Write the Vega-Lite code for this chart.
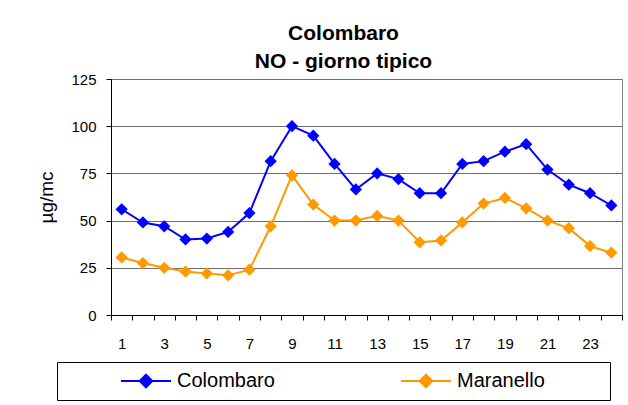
{
  "$schema": "https://vega.github.io/schema/vega-lite/v6.json",
  "width": 511,
  "height": 236,
  "autosize": {"type": "none"},
  "padding": {"left": 111, "top": 79, "right": 6, "bottom": 90},
  "background": "white",
  "config": {
    "font": "Liberation Sans",
    "view": {"stroke": "#808080", "strokeWidth": 1}
  },
  "title": {
    "text": ["Colombaro", "NO - giorno tipico"],
    "font": "Liberation Sans",
    "fontSize": 21,
    "fontWeight": "bold",
    "color": "black",
    "lineHeight": 28,
    "anchor": "middle",
    "frame": "group",
    "baseline": "bottom",
    "offset": -21,
    "dx": -23
  },
  "data": {
    "values": [
      {"ora": 1, "stazione": "Colombaro", "valore": 56},
      {"ora": 2, "stazione": "Colombaro", "valore": 49},
      {"ora": 3, "stazione": "Colombaro", "valore": 47},
      {"ora": 4, "stazione": "Colombaro", "valore": 40},
      {"ora": 5, "stazione": "Colombaro", "valore": 40.5},
      {"ora": 6, "stazione": "Colombaro", "valore": 44},
      {"ora": 7, "stazione": "Colombaro", "valore": 54},
      {"ora": 8, "stazione": "Colombaro", "valore": 81.5},
      {"ora": 9, "stazione": "Colombaro", "valore": 100},
      {"ora": 10, "stazione": "Colombaro", "valore": 95},
      {"ora": 11, "stazione": "Colombaro", "valore": 80},
      {"ora": 12, "stazione": "Colombaro", "valore": 66.5},
      {"ora": 13, "stazione": "Colombaro", "valore": 75},
      {"ora": 14, "stazione": "Colombaro", "valore": 72},
      {"ora": 15, "stazione": "Colombaro", "valore": 64.5},
      {"ora": 16, "stazione": "Colombaro", "valore": 64.5},
      {"ora": 17, "stazione": "Colombaro", "valore": 80},
      {"ora": 18, "stazione": "Colombaro", "valore": 81.5},
      {"ora": 19, "stazione": "Colombaro", "valore": 86.5},
      {"ora": 20, "stazione": "Colombaro", "valore": 90.5},
      {"ora": 21, "stazione": "Colombaro", "valore": 77},
      {"ora": 22, "stazione": "Colombaro", "valore": 69},
      {"ora": 23, "stazione": "Colombaro", "valore": 64.5},
      {"ora": 24, "stazione": "Colombaro", "valore": 58},
      {"ora": 1, "stazione": "Maranello", "valore": 30.5},
      {"ora": 2, "stazione": "Maranello", "valore": 27.5},
      {"ora": 3, "stazione": "Maranello", "valore": 25},
      {"ora": 4, "stazione": "Maranello", "valore": 23},
      {"ora": 5, "stazione": "Maranello", "valore": 22},
      {"ora": 6, "stazione": "Maranello", "valore": 21},
      {"ora": 7, "stazione": "Maranello", "valore": 24},
      {"ora": 8, "stazione": "Maranello", "valore": 47},
      {"ora": 9, "stazione": "Maranello", "valore": 74},
      {"ora": 10, "stazione": "Maranello", "valore": 58.5},
      {"ora": 11, "stazione": "Maranello", "valore": 50},
      {"ora": 12, "stazione": "Maranello", "valore": 50},
      {"ora": 13, "stazione": "Maranello", "valore": 52.5},
      {"ora": 14, "stazione": "Maranello", "valore": 50},
      {"ora": 15, "stazione": "Maranello", "valore": 38.5},
      {"ora": 16, "stazione": "Maranello", "valore": 39.5},
      {"ora": 17, "stazione": "Maranello", "valore": 49},
      {"ora": 18, "stazione": "Maranello", "valore": 59},
      {"ora": 19, "stazione": "Maranello", "valore": 62},
      {"ora": 20, "stazione": "Maranello", "valore": 56.5},
      {"ora": 21, "stazione": "Maranello", "valore": 50},
      {"ora": 22, "stazione": "Maranello", "valore": 46},
      {"ora": 23, "stazione": "Maranello", "valore": 36.5},
      {"ora": 24, "stazione": "Maranello", "valore": 33}
    ]
  },
  "mark": {
    "type": "line",
    "strokeWidth": 2,
    "point": {"shape": "diamond", "size": 150, "filled": true, "opacity": 1}
  },
  "encoding": {
    "x": {
      "field": "ora",
      "type": "quantitative",
      "scale": {"domain": [0.5, 24.5], "nice": false, "zero": false},
      "axis": {
        "title": null,
        "values": [0.5, 1.5, 2.5, 3.5, 4.5, 5.5, 6.5, 7.5, 8.5, 9.5, 10.5, 11.5, 12.5, 13.5, 14.5, 15.5, 16.5, 17.5, 18.5, 19.5, 20.5, 21.5, 22.5, 23.5, 24.5],
        "labelExpr": "(datum.value < 24 && (datum.value + 0.5) % 2 == 1) ? format(datum.value + 0.5, 'd') : ''",
        "labelOffset": 10.65,
        "labelFlush": false,
        "labelOverlap": false,
        "labelFontSize": 15,
        "labelColor": "black",
        "labelPadding": 16,
        "tickSize": 5,
        "tickColor": "black",
        "domainColor": "black",
        "grid": false
      }
    },
    "y": {
      "field": "valore",
      "type": "quantitative",
      "scale": {"domain": [0, 125], "nice": false},
      "axis": {
        "title": "µg/mc",
        "titleFontSize": 19,
        "titleFontWeight": "normal",
        "titleColor": "black",
        "titleX": -65,
        "titleY": 118,
        "titleAngle": -90,
        "titleBaseline": "middle",
        "titleAlign": "center",
        "values": [0, 25, 50, 75, 100, 125],
        "labelFontSize": 15,
        "labelColor": "black",
        "labelPadding": 10,
        "tickSize": 5,
        "tickColor": "black",
        "domainColor": "black",
        "grid": true,
        "gridColor": "#6e6e6e",
        "gridWidth": 1
      }
    },
    "color": {
      "field": "stazione",
      "type": "nominal",
      "scale": {"domain": ["Colombaro", "Maranello"], "range": ["#0000ff", "#ff9900"]},
      "legend": {
        "orient": "none",
        "legendX": -54,
        "legendY": 283,
        "direction": "horizontal",
        "columns": 2,
        "padding": 9,
        "strokeColor": "black",
        "fillColor": "white",
        "cornerRadius": 0,
        "clipHeight": 20,
        "symbolType": "M-1,0H1M0,-0.25L0.25,0L0,0.25L-0.25,0Z",
        "symbolSize": 2500,
        "symbolStrokeWidth": 2,
        "labelFontSize": 20,
        "labelColor": "black",
        "labelOffset": 5,
        "labelLimit": 400,
        "labelExpr": "datum.label + '\u00a0\u00a0\u00a0\u00a0\u00a0\u00a0\u00a0\u00a0\u00a0\u00a0\u200b'",
        "columnPadding": 69,
        "title": " ",
        "titleOrient": "left",
        "titleFontSize": 20,
        "titlePadding": 54,
        "encode": {
          "symbols": {
            "update": {
              "fill": {"scale": "color", "field": "value"},
              "stroke": {"scale": "color", "field": "value"},
              "strokeWidth": {"value": 2},
              "opacity": {"value": 1}
            }
          }
        }
      }
    }
  }
}
